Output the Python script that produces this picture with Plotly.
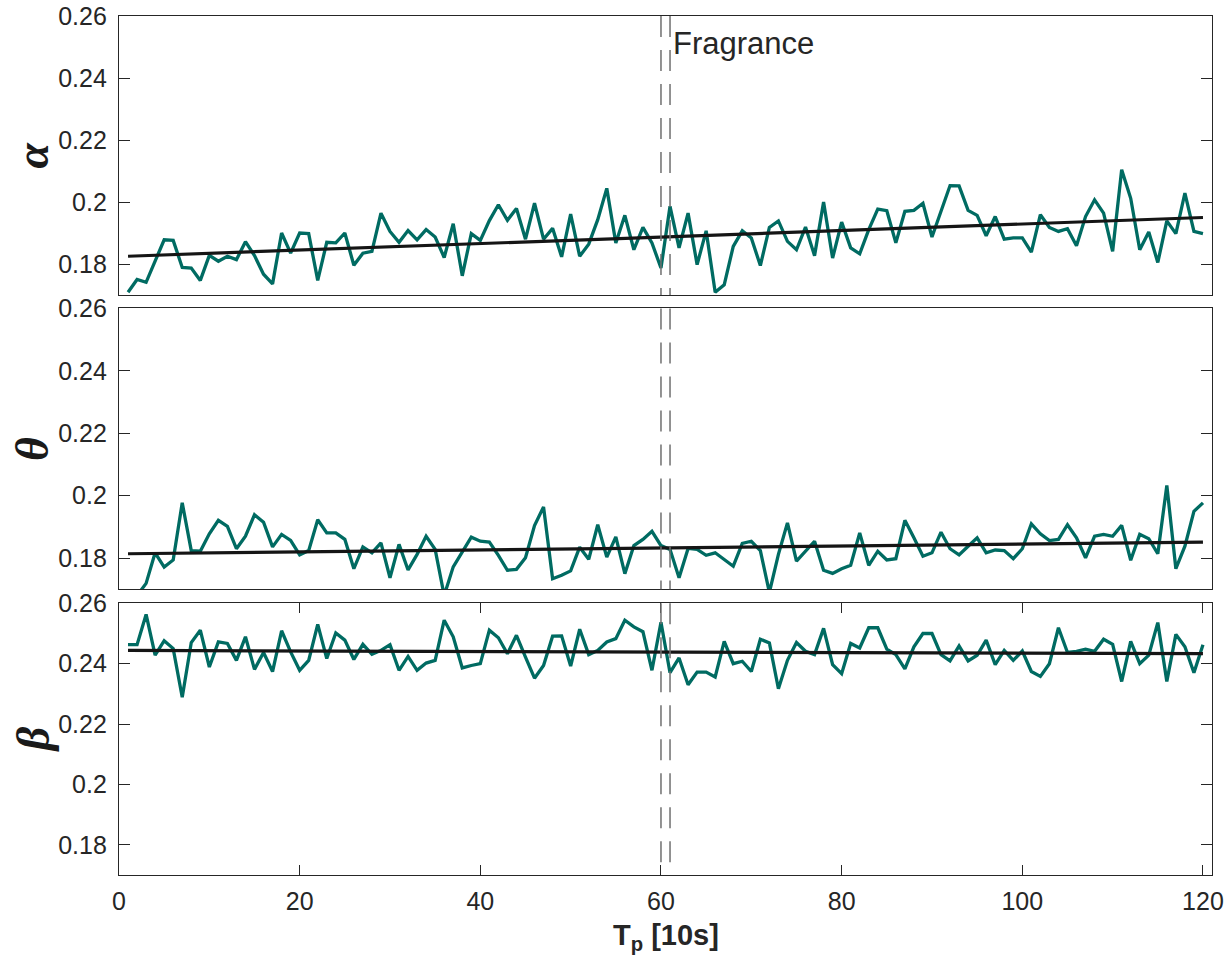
import plotly.graph_objects as go

t = list(range(1, 121))

alpha = [0.1709,0.1750,0.1741,0.1809,0.1878,0.1876,0.1789,0.1787,0.1747,0.1828,
         0.1809,0.1825,0.1814,0.1872,0.1827,0.1767,0.1736,0.1900,0.1835,0.1900,
         0.1898,0.1747,0.1870,0.1868,0.1900,0.1796,0.1835,0.1841,0.1964,0.1905,
         0.1870,0.1908,0.1878,0.1911,0.1887,0.1821,0.1930,0.1762,0.1898,0.1876,
         0.1940,0.1991,0.1941,0.1979,0.1880,0.1996,0.1880,0.1915,0.1823,0.1961,
         0.1825,0.1864,0.1943,0.2044,0.1868,0.1957,0.1846,0.1918,0.1868,0.1787,
         0.1986,0.1852,0.1964,0.1798,0.1907,0.1709,0.1733,0.1857,0.1907,0.1884,
         0.1795,0.1918,0.1939,0.1873,0.1846,0.1919,0.1827,0.2000,0.1819,0.1935,
         0.1852,0.1833,0.1911,0.1977,0.1972,0.1868,0.1970,0.1973,0.1996,0.1887,
         0.1970,0.2053,0.2052,0.1973,0.1957,0.1891,0.1953,0.1880,0.1884,0.1884,
         0.1838,0.1959,0.1918,0.1905,0.1914,0.1859,0.1953,0.2007,0.1964,0.1841,
         0.2104,0.2012,0.1846,0.1903,0.1805,0.1939,0.1898,0.2029,0.1905,0.1898]

theta = [0.1650,0.1680,0.1719,0.1817,0.1771,0.1794,0.1977,0.1824,0.1822,0.1878,
         0.1921,0.1902,0.1830,0.1870,0.1939,0.1915,0.1836,0.1876,0.1857,0.1810,
         0.1824,0.1923,0.1881,0.1881,0.1860,0.1766,0.1836,0.1817,0.1849,0.1737,
         0.1844,0.1762,0.1812,0.1870,0.1828,0.1680,0.1772,0.1822,0.1867,0.1854,
         0.1851,0.1809,0.1761,0.1764,0.1801,0.1904,0.1964,0.1734,0.1745,0.1759,
         0.1835,0.1796,0.1907,0.1803,0.1868,0.1750,0.1840,0.1860,0.1886,0.1840,
         0.1828,0.1737,0.1831,0.1828,0.1809,0.1817,0.1796,0.1774,0.1847,0.1854,
         0.1824,0.1690,0.1812,0.1913,0.1790,0.1822,0.1854,0.1761,0.1751,0.1766,
         0.1777,0.1881,0.1777,0.1822,0.1794,0.1798,0.1921,0.1865,0.1806,0.1817,
         0.1883,0.1830,0.1810,0.1838,0.1865,0.1817,0.1826,0.1824,0.1798,0.1830,
         0.1910,0.1878,0.1856,0.1860,0.1907,0.1865,0.1801,0.1870,0.1876,0.1870,
         0.1905,0.1793,0.1876,0.1862,0.1814,0.2033,0.1766,0.1838,0.1950,0.1977]

beta = [0.2463,0.2463,0.2563,0.2428,0.2476,0.2450,0.2289,0.2470,0.2511,0.2389,
        0.2472,0.2467,0.2411,0.2489,0.2381,0.2437,0.2374,0.2509,0.2439,0.2378,
        0.2411,0.2530,0.2417,0.2502,0.2478,0.2414,0.2464,0.2431,0.2444,0.2463,
        0.2378,0.2424,0.2378,0.2402,0.2411,0.2544,0.2489,0.2386,0.2394,0.2400,
        0.2511,0.2486,0.2433,0.2494,0.2422,0.2352,0.2394,0.2491,0.2492,0.2392,
        0.2514,0.2430,0.2444,0.2472,0.2483,0.2544,0.2522,0.2506,0.2378,0.2537,
        0.2370,0.2419,0.2330,0.2372,0.2372,0.2356,0.2474,0.2400,0.2408,0.2374,
        0.2481,0.2469,0.2317,0.2411,0.2470,0.2441,0.2430,0.2517,0.2397,0.2367,
        0.2467,0.2452,0.2519,0.2519,0.2448,0.2430,0.2383,0.2456,0.2500,0.2500,
        0.2430,0.2409,0.2459,0.2409,0.2428,0.2478,0.2397,0.2444,0.2411,0.2442,
        0.2374,0.2358,0.2400,0.2519,0.2437,0.2441,0.2448,0.2441,0.2481,0.2464,
        0.2341,0.2474,0.2400,0.2428,0.2536,0.2341,0.2497,0.2456,0.2370,0.2463]

trend_x = [1, 120]
alpha_trend = [0.1825, 0.1950]
theta_trend = [0.1814, 0.1851]
beta_trend = [0.2444, 0.2433]

event_x = [60, 61]
event_label = "Fragrance"
event_label_y = 0.2512
panel_labels = ["α", "θ", "β"]
ytick_vals = [0.18, 0.20, 0.22, 0.24, 0.26]
ytick_text = ["0.18", "0.2", "0.22", "0.24", "0.26"]
xtick_vals = [0, 20, 40, 60, 80, 100, 120]
xtick_text = ["0", "20", "40", "60", "80", "100", "120"]

GREEN = "#006B62"
AX = "#262626"
FONT = "Liberation Sans, Arial, Helvetica, sans-serif"

fig = go.Figure()
series = [alpha, theta, beta]
trends = [alpha_trend, theta_trend, beta_trend]
for k in range(3):
    xa = "x" if k == 0 else f"x{k+1}"
    ya = "y" if k == 0 else f"y{k+1}"
    fig.add_trace(go.Scatter(x=t, y=series[k], mode="lines",
                             line=dict(color=GREEN, width=3.3),
                             xaxis=xa, yaxis=ya, showlegend=False))
    fig.add_trace(go.Scatter(x=trend_x, y=trends[k], mode="lines",
                             line=dict(color="#151515", width=3.2),
                             xaxis=xa, yaxis=ya, showlegend=False))

domains = [[0.6752, 1.0], [0.3326, 0.6595], [0.0, 0.3163]]

layout = dict(
    width=1231, height=965,
    paper_bgcolor="white", plot_bgcolor="white",
    margin=dict(l=119, r=19, t=16, b=90, autoexpand=False),
    font=dict(family=FONT, color=AX, size=25),
    showlegend=False,
)

for k in range(3):
    xkey = "xaxis" if k == 0 else f"xaxis{k+1}"
    ykey = "yaxis" if k == 0 else f"yaxis{k+1}"
    yname = "y" if k == 0 else f"y{k+1}"
    xname = "x" if k == 0 else f"x{k+1}"
    last = (k == 2)
    xa = dict(
        range=[0, 121], anchor=yname, domain=[0, 1], automargin=False,
        showline=True, linecolor=AX, linewidth=1.3,
        showgrid=False, zeroline=False,
    )
    if last:
        xa.update(mirror="ticks", ticks="inside", ticklen=10, tickwidth=1.3,
                  tickcolor=AX, tickvals=xtick_vals, ticktext=xtick_text,
                  showticklabels=True,
                  tickfont=dict(size=25, color=AX, family=FONT),
                  ticklabelstandoff=4)
    else:
        xa.update(mirror=True, ticks="", showticklabels=False, matches="x3")
    layout[xkey] = xa
    layout[ykey] = dict(
        range=[0.17, 0.26], anchor=xname, domain=domains[k], automargin=False,
        showline=True, linecolor=AX, linewidth=1.3, mirror="ticks",
        ticks="inside", ticklen=11, tickwidth=1.3, tickcolor=AX,
        tickvals=ytick_vals, ticktext=ytick_text,
        showgrid=False, zeroline=False,
        tickfont=dict(size=25, color=AX, family=FONT),
        ticklabelstandoff=6,
    )

fig.update_layout(**layout)

shapes = []
for k in range(3):
    xname = "x" if k == 0 else f"x{k+1}"
    yname = "y" if k == 0 else f"y{k+1}"
    for ex in event_x:
        shapes.append(dict(type="line", xref=xname, yref=f"{yname} domain",
                           x0=ex, x1=ex, y0=1, y1=0,
                           line=dict(color="#707070", width=1.5, dash="21px,13px")))
fig.update_layout(shapes=shapes)

annotations = [
    dict(text=event_label, x=event_x[1], xref="x", xanchor="left", xshift=1,
         y=event_label_y, yref="y", yanchor="middle", showarrow=False,
         font=dict(size=31, color=AX, family=FONT)),
    dict(text="<b>T<sub>p</sub> [10s]</b>", x=0.5, xref="paper", xanchor="center",
         y=0, yref="paper", yanchor="middle", yshift=-62, showarrow=False,
         font=dict(size=29, color=AX, family=FONT)),
]
for k in range(3):
    d = domains[k]
    annotations.append(dict(
        text=f"<b><i>{panel_labels[k]}</i></b>", x=0, xref="paper", xanchor="center",
        xshift=-86, y=(d[0] + d[1]) / 2, yref="paper", yanchor="middle",
        textangle=-90, showarrow=False,
        font=dict(size=46, color="#1a1a1a", family="Liberation Serif, Times New Roman, serif")))
fig.update_layout(annotations=annotations)

fig.write_html("out.html")
